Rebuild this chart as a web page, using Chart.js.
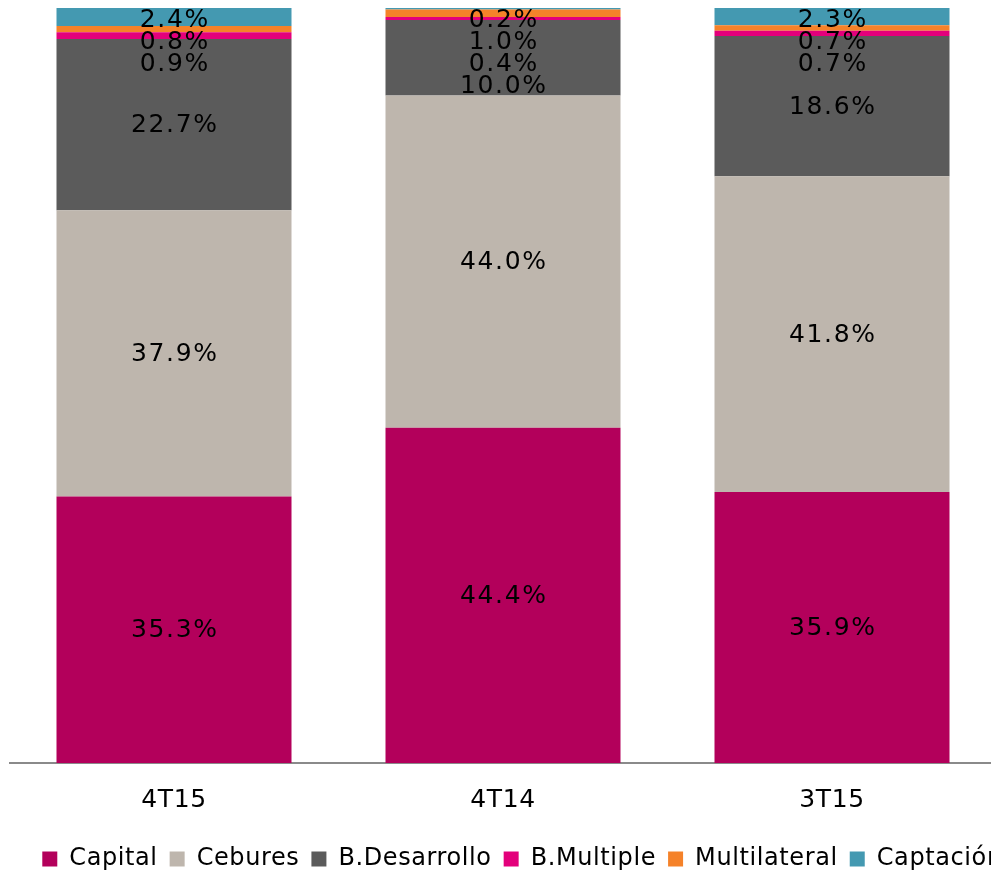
<!DOCTYPE html>
<html>
<head>
<meta charset="utf-8">
<script src="https://cdn.jsdelivr.net/npm/chart.js@4.4.1/dist/chart.umd.min.js"></script>
<style>
  html, body { margin: 0; padding: 0; background: #fff; overflow: hidden; width: 991px; height: 874px; }
  #c { display: block; }
</style>
</head>
<body>
<canvas id="c" width="1045" height="881"></canvas>
<script>
// Funding mix by period (percent of total)
const categories   = ['4T15', '4T14', '3T15'];
const capital      = [35.3, 44.4, 35.9];
const cebures      = [37.9, 44.0, 41.8];
const bDesarrollo  = [22.7, 10.0, 18.6];
const bMultiple    = [0.9, 0.4, 0.7];
const multilateral = [0.8, 1.0, 0.7];
const captacion    = [2.4, 0.2, 2.3];

const seriesNames  = ['Capital', 'Cebures', 'B.Desarrollo', 'B.Multiple', 'Multilateral', 'Captación'];
const seriesValues = [capital, cebures, bDesarrollo, bMultiple, multilateral, captacion];
const seriesColors = ['#B3005B', '#BEB6AD', '#5B5B5B', '#E3007B', '#F58229', '#4499B1'];

const FONT = '"DejaVu Sans", Verdana, sans-serif';

// Wide, slightly tracked lettering for axis and legend text
const tracking = {
  id: 'tracking',
  beforeUpdate(chart) { chart.ctx.letterSpacing = '0.6px'; },
  beforeLayout(chart) { chart.ctx.letterSpacing = '0.6px'; },
  beforeDraw(chart) { chart.ctx.letterSpacing = '0.6px'; }
};

// Percentage label in each stacked segment; thin segments at the top of a bar
// are spread downward so their labels stay readable.
const segmentLabels = {
  id: 'segmentLabels',
  afterDatasetsDraw(chart) {
    const ctx = chart.ctx;
    ctx.save();
    ctx.font = '25px ' + FONT;
    ctx.letterSpacing = '1.6px';
    ctx.fillStyle = '#000';
    ctx.textAlign = 'center';
    ctx.textBaseline = 'middle';
    const nCat = chart.data.labels.length;
    const nSets = chart.data.datasets.length;
    for (let i = 0; i < nCat; i++) {
      let prev = null;
      for (let d = nSets - 1; d >= 0; d--) {
        const el = chart.getDatasetMeta(d).data[i];
        const v = chart.data.datasets[d].data[i];
        let y = (el.y + el.base) / 2;
        if (prev === null) y = Math.max(y, chart.chartArea.top + 11);
        else y = Math.max(y, prev + 22);
        prev = y;
        ctx.fillText(v.toFixed(1) + '%', el.x + 0.8, y + 1);
      }
    }
    ctx.restore();
  }
};

const datasets = seriesNames.map((name, k) => ({
  label: name,
  data: seriesValues[k],
  backgroundColor: seriesColors[k],
  borderWidth: 0,
  categoryPercentage: 1,
  barPercentage: 0.7143
}));

new Chart(document.getElementById('c'), {
  type: 'bar',
  data: { labels: categories, datasets },
  plugins: [tracking, segmentLabels],
  options: {
    responsive: false,
    animation: false,
    events: [],
    layout: { padding: { top: 8, left: 0, right: 0, bottom: 0 } },
    plugins: {
      tooltip: { enabled: false },
      legend: {
        position: 'bottom',
        labels: {
          boxWidth: 15,
          boxHeight: 15,
          padding: 12,
          color: '#000',
          font: { family: FONT, size: 24 }
        }
      }
    },
    scales: {
      x: {
        stacked: true,
        grid: { display: false, drawTicks: false },
        border: { display: true, color: '#8a8a8a', width: 2 },
        ticks: { color: '#000', padding: 22, font: { family: FONT, size: 25 } },
        afterFit(scale) { scale.height = 72; }
      },
      y: {
        stacked: true,
        min: 0,
        max: 100,
        position: 'left',
        grid: { display: false, drawTicks: false },
        border: { display: false },
        ticks: { display: false },
        afterFit(scale) { scale.width = 9.5; }
      },
      yRight: {
        type: 'linear',
        position: 'right',
        grid: { display: false, drawTicks: false },
        border: { display: false },
        ticks: { display: false },
        afterFit(scale) { scale.width = 1045 - 996.5; }
      }
    }
  }
});
</script>
</body>
</html>
